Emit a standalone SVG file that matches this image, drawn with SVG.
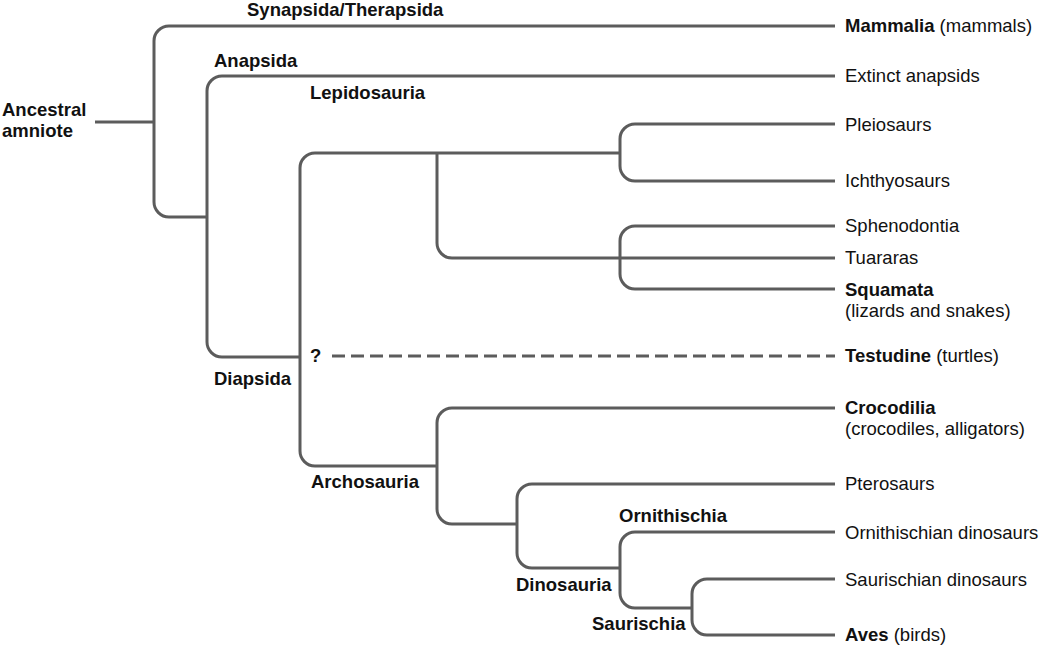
<svg xmlns="http://www.w3.org/2000/svg" width="1043" height="648" viewBox="0 0 1043 648">
<style>
.br{fill:none;stroke:#5c5c5c;stroke-width:3}
.dash{stroke-dasharray:13 6}
text{font-family:"Liberation Sans",Arial,sans-serif;font-size:18.5px;fill:#111}
.b{font-weight:bold}
</style>
<rect width="1043" height="648" fill="#fff"/>
<g id="connectors">
<path class="br" d="M95,122 H154"/>
<path class="br" d="M835,26 H169 A15,15 0 0 0 154,41 V202 A15,15 0 0 0 169,217 H207"/>
<path class="br" d="M835,76 H222 A15,15 0 0 0 207,91 V342 A15,15 0 0 0 222,357 H300"/>
<path class="br" d="M620,153 H315 A15,15 0 0 0 300,168 V451 A15,15 0 0 0 315,466 H437"/>
<path class="br" d="M437,153 V243 A15,15 0 0 0 452,258 H835"/>
<path class="br" d="M835,124 H635 A15,15 0 0 0 620,139 V166 A15,15 0 0 0 635,181 H835"/>
<path class="br" d="M835,226 H635 A15,15 0 0 0 620,241 V274 A15,15 0 0 0 635,289 H835"/>
<path class="br dash" d="M332,356 H835"/>
<path class="br" d="M835,408 H452 A15,15 0 0 0 437,423 V509 A15,15 0 0 0 452,524 H517"/>
<path class="br" d="M835,484 H532 A15,15 0 0 0 517,499 V553 A15,15 0 0 0 532,568 H620"/>
<path class="br" d="M835,532 H635 A15,15 0 0 0 620,547 V593 A15,15 0 0 0 635,608 H692"/>
<path class="br" d="M835,579 H707 A15,15 0 0 0 692,594 V620 A15,15 0 0 0 707,635 H835"/>
</g>
<g id="node-root"><text class="b" x="2" y="116">Ancestral</text><text class="b" x="2" y="137">amniote</text></g>
<g id="node-synapsida"><text class="b" x="247" y="16">Synapsida/Therapsida</text></g>
<g id="node-anapsida"><text class="b" x="214" y="67">Anapsida</text></g>
<g id="node-lepidosauria"><text class="b" x="310" y="99">Lepidosauria</text></g>
<g id="node-diapsida"><text class="b" x="214" y="385">Diapsida</text></g>
<g id="node-unknown"><text class="b" x="310" y="362">?</text></g>
<g id="node-archosauria"><text class="b" x="311" y="488">Archosauria</text></g>
<g id="node-ornithischia"><text class="b" x="619" y="522">Ornithischia</text></g>
<g id="node-dinosauria"><text class="b" x="516" y="591">Dinosauria</text></g>
<g id="node-saurischia"><text class="b" x="592" y="630">Saurischia</text></g>
<g id="leaf-mammalia"><text x="845" y="32"><tspan class="b">Mammalia</tspan> (mammals)</text></g>
<g id="leaf-anapsids"><text x="845" y="82">Extinct anapsids</text></g>
<g id="leaf-pleiosaurs"><text x="845" y="130.5">Pleiosaurs</text></g>
<g id="leaf-ichthyosaurs"><text x="845" y="187">Ichthyosaurs</text></g>
<g id="leaf-sphenodontia"><text x="845" y="232">Sphenodontia</text></g>
<g id="leaf-tuararas"><text x="845" y="264">Tuararas</text></g>
<g id="leaf-squamata"><text x="845" y="295.5" class="b">Squamata</text><text x="845" y="317">(lizards and snakes)</text></g>
<g id="leaf-testudine"><text x="845" y="362"><tspan class="b">Testudine</tspan> (turtles)</text></g>
<g id="leaf-crocodilia"><text x="845" y="414" class="b">Crocodilia</text><text x="845" y="435">(crocodiles, alligators)</text></g>
<g id="leaf-pterosaurs"><text x="845" y="490">Pterosaurs</text></g>
<g id="leaf-ornithischian"><text x="845" y="538.5">Ornithischian dinosaurs</text></g>
<g id="leaf-saurischian"><text x="845" y="585.5">Saurischian dinosaurs</text></g>
<g id="leaf-aves"><text x="845" y="641"><tspan class="b">Aves</tspan> (birds)</text></g>
</svg>
